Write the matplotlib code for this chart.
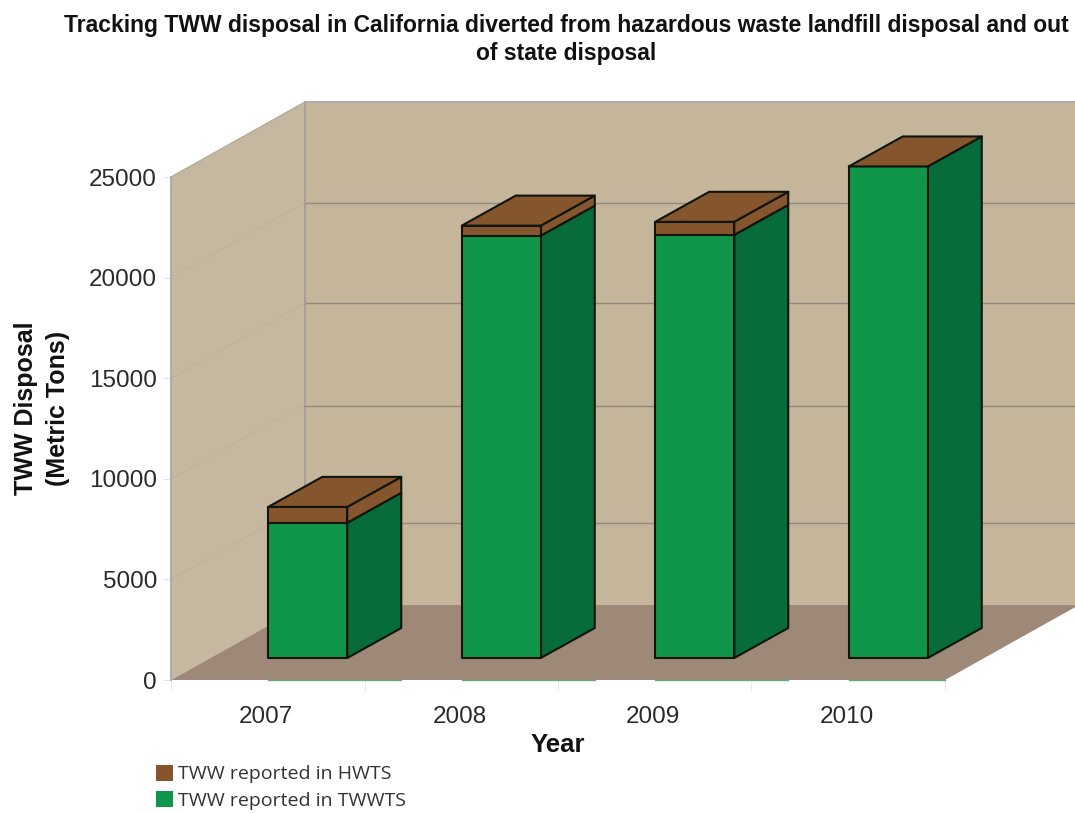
import matplotlib
matplotlib.use("Agg")
import matplotlib.pyplot as plt

years = ["2007", "2008", "2009", "2010"]
twwts = [6720, 20990, 21030, 24430]
hwts = [790, 500, 650, 0]
y_ticks = [0, 5000, 10000, 15000, 20000, 25000]
wall_grid = [4080, 9900, 15030, 20000]

W, H = 1075, 813
L, R, T, B = 171, 945, 177, 680
WALL = "#c4b59b"
SIDE = "#c6b8a0"
FLOOR = "#9e8878"
GREEN = "#10964a"
DGREEN = "#076b3a"
BROWN = "#85562e"
EDGE = "#10140c"

plt.rcParams["font.family"] = ["Liberation Sans", "DejaVu Sans"]
fig = plt.figure(figsize=(W / 100, H / 100), dpi=100)
ax = fig.add_axes([L / W, 1 - B / H, (R - L) / W, (B - T) / H])
ax.set_xlim(0, 4)
ax.set_ylim(0, 25000)
ax.patch.set_visible(False)

ux = 4 / (R - L)
uy = 25000 / (B - T)


def poly(pts, fc, ec="none", lw=0.0, z=1):
    xs = [p[0] for p in pts]
    ys = [p[1] for p in pts]
    ax.fill(xs, ys, facecolor=fc, edgecolor=ec, linewidth=lw, zorder=z,
            clip_on=False, joinstyle="round")


DX, DY = 134 * ux, 75 * uy
TOP = 25000
FAR = 4 + 160 * ux
poly([(DX, DY), (FAR, DY), (FAR, TOP + DY), (DX, TOP + DY)], WALL, z=1)
poly([(0, 0), (DX, DY), (DX, TOP + DY), (0, TOP)], SIDE, z=1)
poly([(0, 0), (4, 0), (4 + DX, DY), (DX, DY)], FLOOR, z=2)
ax.plot([DX, FAR], [TOP + DY, TOP + DY], color="#a8a8a4", lw=1.3, zorder=2, clip_on=False)
ax.plot([DX, DX], [DY, TOP + DY], color="#a09c98", lw=1.2, zorder=2, clip_on=False)
ax.plot([0, DX], [TOP, TOP + DY], color="#b0ac9c", lw=1.0, zorder=2, clip_on=False)
ax.plot([0, 0], [0, TOP], color="#a8a8a8", lw=1.3, zorder=3, clip_on=False)
for v in wall_grid:
    ax.plot([DX, FAR], [v + DY, v + DY], color="#8f8a80", lw=1.0, zorder=2, clip_on=False)
for v in y_ticks[1:-1]:
    ax.plot([0, DX], [v, v + DY], color="#bdb09a", lw=0.6, zorder=2, clip_on=False)

bw = 79 * ux
ox, oy = 40 * ux, 22 * uy
bdx, bdy = 54 * ux, 30 * uy

# thin green trace along the front floor edge
for i in range(4):
    s = i + 0.5 - bw / 2 + ox
    ax.plot([s, min(s + bw + bdx, 4)], [0, 0], color="#5fb07c", lw=1.0, zorder=3, clip_on=False)

for i, (g, b) in enumerate(zip(twwts, hwts)):
    x0 = i + 0.5 - bw / 2 + ox
    x1 = x0 + bw
    y0 = oy
    g1 = oy + g
    t1 = g1 + b
    poly([(x1, y0), (x1 + bdx, y0 + bdy), (x1 + bdx, g1 + bdy), (x1, g1)], DGREEN, EDGE, 1.5, 5)
    poly([(x0, y0), (x1, y0), (x1, g1), (x0, g1)], GREEN, EDGE, 1.5, 6)
    if b > 0:
        poly([(x1, g1), (x1 + bdx, g1 + bdy), (x1 + bdx, t1 + bdy), (x1, t1)], BROWN, EDGE, 1.5, 5)
        poly([(x0, g1), (x1, g1), (x1, t1), (x0, t1)], BROWN, EDGE, 1.5, 6)
    poly([(x0, t1), (x1, t1), (x1 + bdx, t1 + bdy), (x0 + bdx, t1 + bdy)], BROWN, EDGE, 1.5, 7)

for s in ax.spines.values():
    s.set_visible(False)
ax.set_yticks(y_ticks)
ax.set_yticklabels([str(v) for v in y_ticks], fontsize=17.5, color="#2a2a2a")
ax.set_xticks(range(5))
ax.set_xticklabels([""] * 5)
ax.tick_params(axis="y", length=6, width=0.6, color="#dddddd", pad=4)
ax.tick_params(axis="x", length=8, width=0.6, color="#e4e4e4")
for i, y in enumerate(years):
    ax.text(i + 0.5 - 1.5 * ux, -37 * uy, y, ha="center", va="center", fontsize=17.5, color="#2a2a2a",
            clip_on=False)
ax.set_zorder(2)

fig.text(558 / W, 1 - 745 / H, "Year", ha="center", va="center", fontsize=18.5, fontweight="bold", color="#111111")
fig.text(42 / W, 1 - 408 / H, "TWW Disposal\n(Metric Tons)", ha="center", va="center", rotation=90,
         fontsize=18, fontweight="bold", color="#111111", linespacing=1.4)
fig.text(566 / W, 1 - 39.5 / H,
         "Tracking TWW disposal in California diverted from hazardous waste landfill disposal and out\nof state disposal",
         ha="center", va="center", fontsize=16.5, fontweight="bold", color="#111111", linespacing=1.25)

handles = [plt.Rectangle((0, 0), 1, 1, fc=BROWN, ec="none"), plt.Rectangle((0, 0), 1, 1, fc=GREEN, ec="none")]
leg = fig.legend(handles, ["TWW reported in HWTS", "TWW reported in TWWTS"],
                 loc="upper left", bbox_to_anchor=(156 / W, 1 - 765 / H), frameon=False,
                 prop={"family": "Open Sans", "size": 14}, handlelength=0.85, handleheight=0.85,
                 handletextpad=0.3, labelspacing=0.4, borderpad=0, borderaxespad=0, labelcolor="#333333")

fig.savefig("out.png", dpi=100)
